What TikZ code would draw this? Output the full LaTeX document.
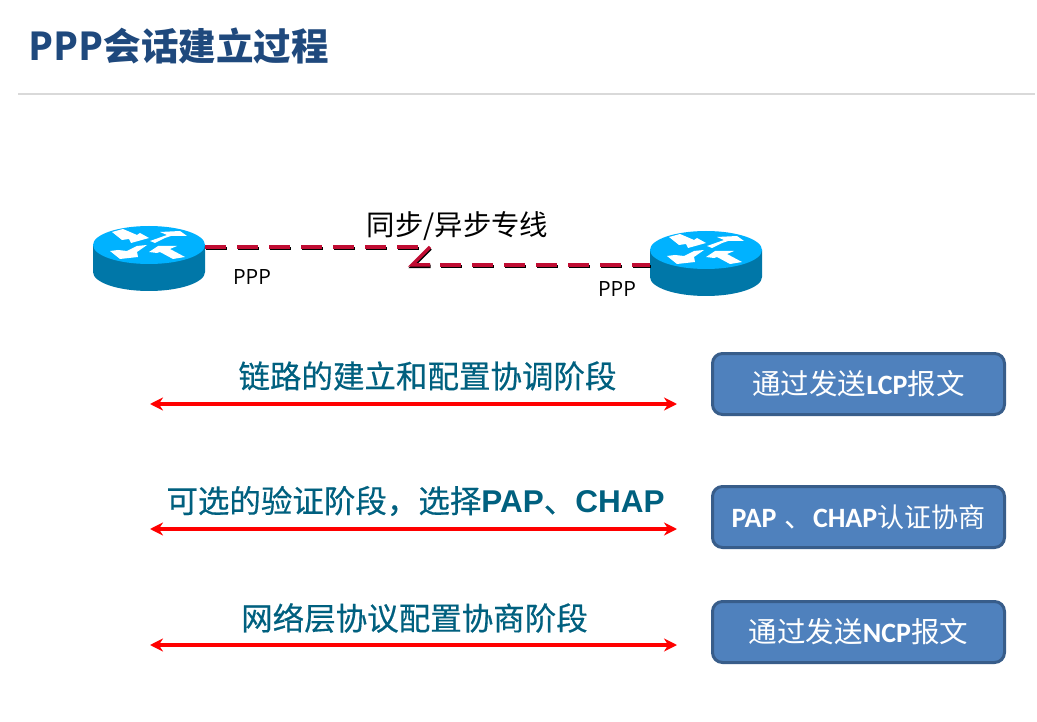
\documentclass[tikz,border=0pt]{standalone}
\usetikzlibrary{arrows.meta}
\usepackage{fontspec}
\setmainfont{Open Sans}
\newfontfamily\cjk{Noto Sans CJK SC}
\newfontfamily\cjkheavy[FakeBold=0.4]{Noto Sans CJK SC}
\newfontfamily\arialfont{Liberation Sans}
\newfontfamily\carlitofont{Carlito}
\definecolor{titleblue}{HTML}{1F497D}
\definecolor{labelteal}{HTML}{00607F}
\definecolor{boxfill}{HTML}{4F81BD}
\definecolor{boxline}{HTML}{385D8A}
\definecolor{linkred}{HTML}{C00D33}
\definecolor{routertop}{HTML}{00B2FF}
\definecolor{routerside}{HTML}{0077A8}
\newcommand{\boxlatin}[1]{{\carlitofont\bfseries\fontsize{28}{32}\selectfont #1}}
\tikzset{
  msgbox/.style={rounded corners=10pt,draw=boxline,fill=boxfill,line width=3pt,minimum width=292pt,minimum height=61pt,inner sep=0pt,text=white,font=\fontsize{28.5}{32}\selectfont\cjk},
  phase/.style={text=labelteal,inner sep=0pt,font=\fontsize{31.5}{36}\selectfont\cjkheavy},
  span/.style={red,line width=4pt,{Stealth[length=13pt,width=13pt]}-{Stealth[length=13pt,width=13pt]}},
  linkdash/.style={line width=3.5pt,dash pattern=on 21pt off 11pt},
  linksolid/.style={line width=3.5pt,line join=miter},
  ppplabel/.style={inner sep=0pt,font=\fontsize{21}{24}\selectfont},
  pics/router/.style={code={
    \fill[routerside] (-56,0) -- (-56,27) arc[start angle=180,end angle=0,x radius=56,y radius=19] -- (56,0) -- cycle;
    \fill[routertop] (0,0) ellipse[x radius=56,y radius=19];
    % Arrows
    \fill[white] (-37,-13) -- (-26,-16) -- (-12,-10) -- (-9,-12) -- (0,-7) -- (-18,-2) -- (-20,-6) -- (-27,-5) -- cycle;
    \fill[white] (1,-4) -- (18,-10) -- (11,-13) -- (31,-14) -- (38,-9) -- (22,-9) -- (16,-7) -- (6,-2) -- cycle;
    \fill[white] (-2,0) -- (-12,7) -- (-11,12) -- (-29,14) -- (-39,6) -- (-31,5) -- (-22,6) -- (-12,1) -- cycle;
    \fill[white] (0,7) -- (9,1) -- (28,1) -- (21,4) -- (36,12) -- (24,14) -- (11,7) -- (8,8) -- cycle;
  }}
}
\begin{document}
\begin{tikzpicture}[x=1pt,y=-1pt]
    \useasboundingbox[fill=white] (0,0) rectangle (1037,722);

    % Title
    \node (heading) at (28,46) [anchor=west,inner sep=0pt,text=titleblue,font=\fontsize{40}{44}\selectfont\bfseries] {PPP{\cjk\fontsize{37.5}{44}\selectfont 会话建立过程}};
    \coordinate (ruleL) at (18,94);
    \coordinate (ruleR) at (1035,94);
    \draw[black!15,line width=1.5pt] (ruleL) -- (ruleR);

    % Routers
    \pic at (149,245) {router};
    \pic at (706,250) {router};
    \node (pppL) at (252,277) [ppplabel] {PPP};
    \node (pppR) at (617,289) [ppplabel] {PPP};
    \node (linkname) at (457.5,226) [inner sep=0pt,font=\fontsize{28.4}{30}\selectfont\cjk] {同步/异步专线};

    % Serial link
    \coordinate (linkA) at (205,247);
    \coordinate (linkB) at (420,247);
    \coordinate (zigA) at (430,247);
    \coordinate (zigB) at (412,265);
    \coordinate (zigC) at (430,265);
    \coordinate (linkC) at (440,265);
    \coordinate (linkD) at (650,265);
    \begin{scope}[black,shift={(0.5,1.5)}]
      \draw[linkdash] (205,247) -- (420,247);
      \draw[linksolid] (430,247) -- (412,265) -- (430,265);
      \draw[linkdash] (440,265) -- (650,265);
    \end{scope}
    \draw[linkdash,linkred] (linkA) -- (linkB);
    \draw[linksolid,linkred] (zigA) -- (zigB) -- (zigC);
    \draw[linkdash,linkred] (linkC) -- (linkD);

    % Phases
    \node (lcptext) at (427.5,376) [phase] {链路的建立和配置协调阶段};
    \node (authtext) at (415.5,501) [phase] {可选的验证阶段，选择{\arialfont\bfseries PAP}、{\arialfont\bfseries CHAP}};
    \node (ncptext) at (414.5,618) [phase] {网络层协议配置协商阶段};

    \coordinate (lcpL) at (150,404);
    \coordinate (lcpR) at (677,404);
    \coordinate (authL) at (150,529);
    \coordinate (authR) at (677,529);
    \coordinate (ncpL) at (150,645);
    \coordinate (ncpR) at (677,645);
    \draw[span] (lcpL) -- (lcpR);
    \draw[span] (authL) -- (authR);
    \draw[span] (ncpL) -- (ncpR);

    % Messages
    \node (lcpbox) at (858.5,384) [msgbox] {通过发送\boxlatin{LCP}报文};
    \node (authbox) at (858.5,517) [msgbox] {\boxlatin{PAP}\hspace{8pt}、\boxlatin{CHAP}{\fontsize{27}{32}\selectfont 认证协商}};
    \node (ncpbox) at (858.5,632) [msgbox] {通过发送\boxlatin{NCP}报文};
\end{tikzpicture}
\end{document}
